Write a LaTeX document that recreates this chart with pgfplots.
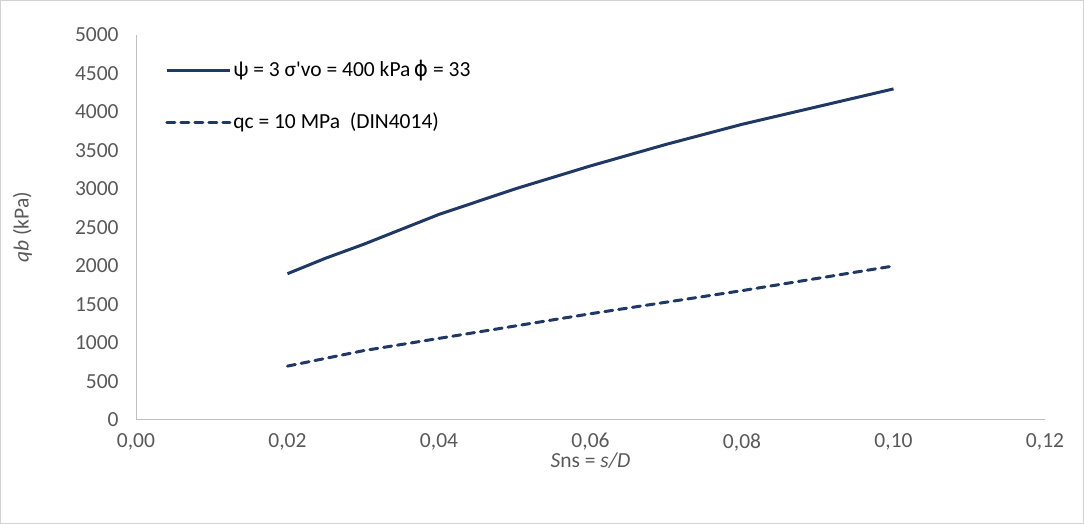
\documentclass[border=0pt]{standalone}
\usepackage{pgfplots}
\pgfplotsset{compat=1.18}
\usepackage{fontspec}
\setmainfont{Carlito}
\newfontfamily\nomapfont{Carlito}
\newfontfamily\greekfont{DejaVu Sans}
\definecolor{navy}{HTML}{203864}
\definecolor{tickgray}{HTML}{595959}
\definecolor{axgray}{HTML}{BFBFBF}
\begin{document}
\begin{tikzpicture}
\fontsize{21.5bp}{25bp}\selectfont
\path[use as bounding box] (0,0) rectangle (1084bp,524bp);
\draw[color=axgray!70, line width=0.8bp] (0.5bp,0.5bp) rectangle (1083.5bp,523.5bp);
\begin{axis}[
  at={(136bp,104bp)}, anchor=south west,
  scale only axis, width=909bp, height=385bp,
  xmin=0, xmax=0.12, ymin=0, ymax=5000,
  xtick={0,0.02,...,0.12}, ytick={0,500,...,5000},
  axis lines*=left,
  axis line style={color=axgray, line width=1bp, -},
  major tick length=0pt,
  tick label style={color=tickgray, font=\fontsize{21.5bp}{25bp}\selectfont},
  xticklabel style={yshift=-6bp},
  yticklabel style={xshift=-10bp},
  /pgf/number format/assume math mode=true,
  xticklabel style={/pgf/number format/.cd, use comma, fixed, fixed zerofill, precision=2},
  yticklabel style={/pgf/number format/.cd, 1000 sep={}},
  scaled x ticks=false, scaled y ticks=false,
  xlabel={\textit{S}ns = \textit{s/D}},
  ylabel={\textit{qb} (kPa)},
  xlabel style={at={(axis description cs:0.5,-0.106)}, anchor=center},
  ylabel style={at={(axis description cs:-0.125,0.5)}, anchor=center},
  label style={color=tickgray, font=\fontsize{21.5bp}{25bp}\selectfont},
  legend style={at={(0.032,0.94)}, anchor=north west, draw=none, fill=none,
    font=\fontsize{21.5bp}{25bp}\selectfont, row sep=29bp, inner sep=0pt,
    nodes={inner sep=2bp}},
  legend cell align=left,
  legend image code/.code={\draw[#1] (0bp,0bp) -- (63bp,0bp);},
]
\addplot[navy, line width=3bp, line join=round] coordinates {
 (0.02,1900) (0.025,2100) (0.03,2280) (0.04,2670) (0.05,3000) (0.06,3300) (0.07,3580) (0.08,3840) (0.10,4300)};
\addlegendentry{ψ = 3 σ{\nomapfont '}vo = 400 kPa\,{\greekfont ϕ} = 33}
\addplot[navy, line width=3bp, line cap=round, dash pattern=on 8bp off 6bp] coordinates {
 (0.02,700) (0.03,900) (0.04,1060) (0.05,1220) (0.06,1380) (0.07,1530) (0.08,1680) (0.10,2000)};
\addlegendentry{qc = 10 MPa\ \ (DIN4014)}
\end{axis}
\end{tikzpicture}
\end{document}
